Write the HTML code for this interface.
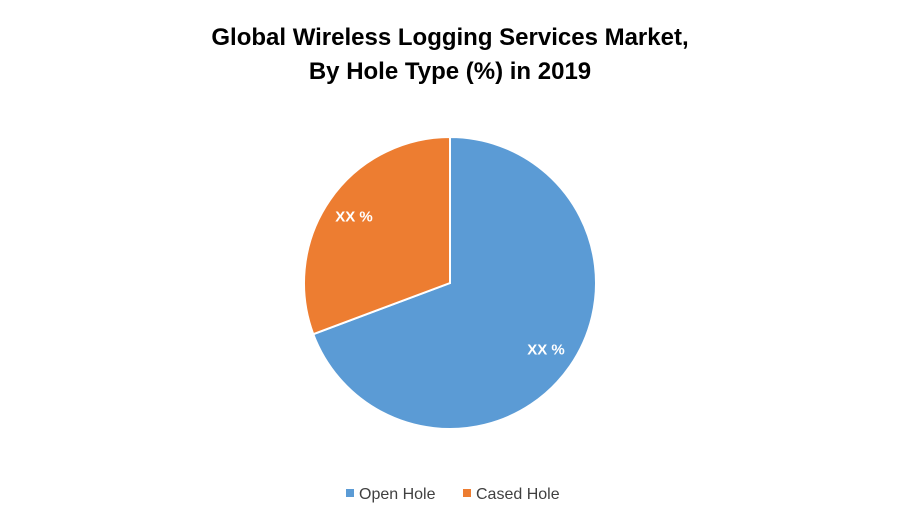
<!DOCTYPE html>
<html><head><meta charset="utf-8"><style>
body{margin:0;background:#fff;width:900px;height:525px;overflow:hidden;font-family:"Liberation Sans",sans-serif}
</style></head><body>
<svg width="900" height="525" viewBox="0 0 900 525">
<text x="450" y="45" text-anchor="middle" font-size="24" font-weight="bold" fill="#000">Global Wireless Logging Services Market,</text>
<text x="450" y="79" text-anchor="middle" font-size="24" font-weight="bold" fill="#000">By Hole Type (%) in 2019</text>
<g id="slices"></g>
<g>
<rect x="346" y="489" width="8" height="8" fill="#5B9BD5"/>
<text x="359" y="499" font-size="16" fill="#404040">Open Hole</text>
<rect x="463" y="489" width="8" height="8" fill="#ED7D31"/>
<text x="476" y="499" font-size="16" fill="#404040">Cased Hole</text>
</g>
</svg>
<script>
const categories=["Open Hole","Cased Hole"];
const values=[69.3,30.7];
const labels=["XX %","XX %"];
const colors=["#5B9BD5","#ED7D31"];
const cx=450,cy=283,r=146;
const g=document.getElementById('slices');
const total=values.reduce((a,b)=>a+b,0);
let a0=0;
function pt(a,rr){return [cx+rr*Math.sin(a),cy-rr*Math.cos(a)];}
values.forEach((v,i)=>{
  const a1=a0+v/total*2*Math.PI;
  const p0=pt(a0,r),p1=pt(a1,r);
  const large=(a1-a0)>Math.PI?1:0;
  const path=document.createElementNS('http://www.w3.org/2000/svg','path');
  path.setAttribute('d',`M${cx},${cy} L${p0[0]},${p0[1]} A${r},${r} 0 ${large} 1 ${p1[0]},${p1[1]} Z`);
  path.setAttribute('fill',colors[i]);
  path.setAttribute('stroke','#fff');
  path.setAttribute('stroke-width','2');
  
  
  g.appendChild(path);
  const m=(a0+a1)/2;const lp=pt(m,r*0.8);
  const t=document.createElementNS('http://www.w3.org/2000/svg','text');
  t.setAttribute('x',lp[0]);t.setAttribute('y',lp[1]+5);
  t.setAttribute('text-anchor','middle');t.setAttribute('font-size','15');
  t.setAttribute('font-weight','bold');t.setAttribute('fill','#fff');
  t.textContent=labels[i];
  
  
  g.appendChild(t);
  a0=a1;
});
</script>
</body></html>
